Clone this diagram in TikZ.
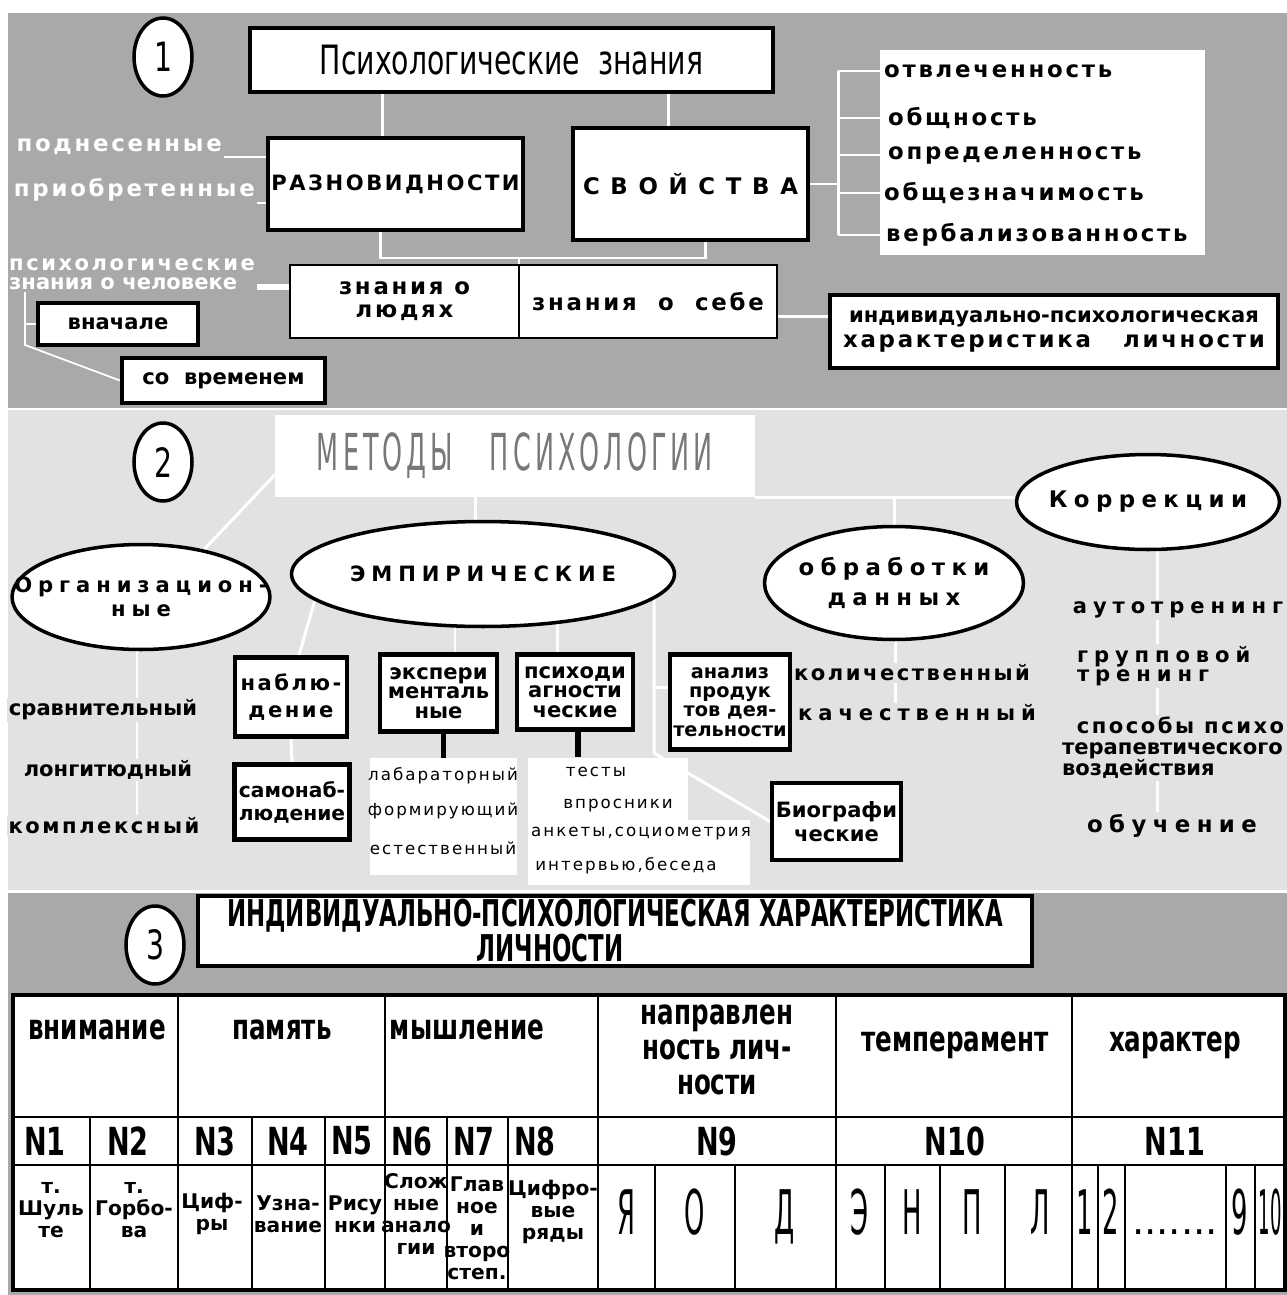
\documentclass[tikz,border=0pt]{standalone}
\usepackage{fontspec}
\setmainfont{DejaVu Sans}
\newfontfamily\spacedfont[LetterSpace=12]{DejaVu Sans}
\newfontfamily\widefont[LetterSpace=28]{DejaVu Sans}
\newfontfamily\narrowfont[FakeStretch=0.7]{DejaVu Sans}
\newfontfamily\titlefont[FakeStretch=0.62]{DejaVu Sans}
\newfontfamily\metfont[FakeStretch=0.5,LetterSpace=8]{DejaVu Sans}
\newfontfamily\thinfont[FakeStretch=0.42]{DejaVu Sans}
\usetikzlibrary{shapes.geometric,positioning,calc}
\definecolor{darkband}{HTML}{A9A9A9}
\definecolor{lightband}{HTML}{E2E2E2}
\definecolor{titlegray}{HTML}{787878}
\newcommand{\fsz}[2]{\fontsize{#1}{#2}\selectfont}
\pgfdeclarelayer{bands}
\pgfdeclarelayer{wires}
\pgfsetlayers{bands,wires,main}

\begin{document}
\begin{tikzpicture}[
  x=0.02cm,y=-0.02cm,
  box/.style={draw,line width=2.4pt,fill=white,align=center,inner sep=2pt},
  thinbox/.style={draw,line width=1.6pt,fill=white,align=center,inner sep=2pt},
  oval/.style={ellipse,draw,line width=2pt,fill=white,inner sep=0pt},
  num/.style={ellipse,draw,line width=2pt,fill=white,minimum width=1.16cm,
    minimum height=1.56cm,inner sep=0pt,font=\narrowfont\fsz{23}{23}},
  wline/.style={draw=white,line width=1.7pt},
  bline/.style={draw=black,line width=3pt},
  tline/.style={line width=1.2pt},
  wlbl/.style={text=white,align=left,inner sep=1pt},
  prop/.style={anchor=west,inner sep=1pt,font=\spacedfont\bfseries\fsz{13}{13}},
  glbl/.style={fill=lightband,inner sep=1pt,align=left},
  litem/.style={inner sep=1pt,font=\spacedfont\fsz{9.5}{10}},
  hdr/.style={align=center,inner sep=0pt,font=\narrowfont\bfseries\fsz{20}{20}},
  nlbl/.style={inner sep=0pt,font=\narrowfont\bfseries\fsz{22}{22}},
  small/.style={align=center,inner sep=0pt,font=\bfseries\fsz{11.5}{12.5}},
  big/.style={inner sep=0pt,text height=26pt,text depth=0pt,font=\thinfont\fsz{35}{35}}]
  \useasboundingbox (0,0) rectangle (1287,1295);
  \begin{pgfonlayer}{bands}
    \fill[white] (0,0) rectangle (1287,1295);
    \fill[darkband] (8,13) rectangle (1287,408);
    \fill[lightband] (8,410) rectangle (1287,890);
    \fill[darkband] (8,893) rectangle (1287,1295);
  \end{pgfonlayer}

  % section 1
  \node[num] (c1) at (163,57) {1};
  \node[box,minimum width=10.46cm,minimum height=1.28cm,font=\narrowfont\fsz{23}{23}] (kn) at (511.5,60) {Психологические\ \ знания};
  \node[box,minimum width=5.02cm,minimum height=1.84cm,font=\spacedfont\bfseries\fsz{12}{12}] (razn) at (395.5,184) {РАЗНОВИДНОСТИ};
  \node[box,minimum width=4.7cm,minimum height=2.24cm,font=\spacedfont\bfseries\fsz{13}{13}] (svoi) at (690.5,184) {С В О Й С Т В А};
  \node[fill=white,minimum width=6.5cm,minimum height=4.1cm] (props) at (1042.5,152.5) {};
  \node[prop] (p1) at (882,71) {отвлеченность};
  \node[prop] (p2) at (886,118) {общность};
  \node[prop] (p3) at (886,155) {определенность};
  \node[prop] (p4) at (882,193) {общезначимость};
  \node[prop] (p5) at (884,235) {вербализованность};
  \node[wlbl,anchor=south east,font=\spacedfont\bfseries\fsz{13}{13}] (podn) at (224,157) {поднесенные};
  \node[wlbl,anchor=south east,font=\spacedfont\bfseries\fsz{13}{13}] (priob) at (257,203) {приобретенные};
  \node[wlbl,anchor=south east,font=\bfseries\fsz{12}{11}] (psi) at (257,292) {{\spacedfont психологические}\\знания о человеке};
  \node[thinbox,minimum width=4.58cm,minimum height=1.46cm,font=\spacedfont\bfseries\fsz{13}{13}] (zl) at (404.5,301.5) {знания о\\людях};
  \node[thinbox,minimum width=5.16cm,minimum height=1.46cm,font=\spacedfont\bfseries\fsz{13}{13}] (zr) at (648,301.5) {знания\ \ о\ \ себе};
  \node[box,minimum width=8.96cm,minimum height=1.46cm,font=\bfseries\fsz{12}{14}] (ipx) at (1054,331.5) {индивидуально-психологическая\\{\spacedfont\fsz{13}{14}характеристика\ \ \ личности}};
  \node[box,minimum width=3.2cm,minimum height=0.84cm,font=\bfseries\fsz{12}{12}] (vnach) at (118,324) {вначале};
  \node[box,minimum width=4.06cm,minimum height=0.9cm,font=\bfseries\fsz{12}{12}] (sovr) at (223.5,380.5) {со\ \ временем};

  % section 2
  \node[num] (c2) at (163,462) {2};
  \node[fill=white,minimum width=9.6cm,minimum height=1.64cm,text=titlegray,font=\metfont\fsz{29}{29}] (met) at (515,456) {МЕТОДЫ\ \ \ ПСИХОЛОГИИ};
  \node[oval,minimum width=5.16cm,minimum height=2.1cm] (org) at (141,597) {};
  \node[align=center,font=\widefont\bfseries\fsz{12}{14}] (orgt) at (org) {Организацион-\\ные};
  \node[oval,minimum width=7.66cm,minimum height=2.1cm] (emp) at (483,574) {};
  \node[font=\widefont\bfseries\fsz{12}{12}] (empt) at (emp) {ЭМПИРИЧЕСКИЕ};
  \node[oval,minimum width=5.18cm,minimum height=2.26cm] (obr) at (894,583) {};
  \node[align=center,font=\widefont\bfseries\fsz{13}{17}] (obrt) at (obr) {обработки\\данных};
  \node[oval,minimum width=5.26cm,minimum height=1.9cm] (korr) at (1148,502) {};
  \node[font=\widefont\bfseries\fsz{13}{13}] (korrt) at (korr) {Коррекции};
  \node[box,minimum width=2.24cm,minimum height=1.58cm,font=\spacedfont\bfseries\fsz{12}{15}] (nabl) at (291,697) {наблю-\\дение};
  \node[box,minimum width=2.3cm,minimum height=1.5cm,font=\bfseries\fsz{11.5}{13}] (samo) at (292,802) {самонаб-\\людение};
  \node[box,minimum width=2.34cm,minimum height=1.54cm,font=\bfseries\fsz{12}{11}] (eksp) at (438.5,693) {экспери\\менталь\\ные};
  \node[box,minimum width=2.32cm,minimum height=1.5cm,font=\bfseries\fsz{12}{11}] (psid) at (575,692) {психоди\\агности\\ческие};
  \node[box,minimum width=2.32cm,minimum height=1.9cm,font=\bfseries\fsz{11}{11}] (anal) at (730,702) {анализ\\продук\\тов дея-\\тельности};
  \node[box,minimum width=2.34cm,minimum height=1.54cm,font=\bfseries\fsz{12}{14}] (bio) at (836.5,821.5) {Биографи\\ческие};
  \node[fill=white,minimum width=2.94cm,minimum height=2.34cm] (list1) at (443.5,816.5) {};
  \node[litem] (l1) at (443,776) {лабараторный};
  \node[litem] (l2) at (443,811) {формирующий};
  \node[litem] (l3) at (443,848) {естественный};
  \node[fill=white,minimum width=3.2cm,minimum height=1.3cm] (list2a) at (608,790) {};
  \node[fill=white,minimum width=4.44cm,minimum height=1.3cm] (list2b) at (639,852) {};
  \node[litem] (t1) at (596,772) {тесты};
  \node[litem] (t2) at (618,806) {впросники};
  \node[litem] (t3) at (641,834) {анкеты,социометрия};
  \node[litem] (t4) at (626,866) {интервью,беседа};
  \node[glbl,font=\bfseries\fsz{12}{12}] (o1) at (103,710) {сравнительный};
  \node[glbl,font=\bfseries\fsz{12}{12}] (o2) at (108,770) {лонгитюдный};
  \node[glbl,font=\spacedfont\bfseries\fsz{12}{12}] (o3) at (104,826) {комплексный};
  \node[glbl,font=\spacedfont\bfseries\fsz{12}{12}] (d1) at (912,673) {количественный};
  \node[glbl,font=\widefont\bfseries\fsz{12}{12}] (d2) at (917,713) {качественный};
  \node[glbl,font=\widefont\bfseries\fsz{12}{12}] (k1) at (1178,610) {аутотренинг};
  \node[glbl,anchor=west,font=\widefont\bfseries\fsz{12}{11}] (k2) at (1075,666) {групповой\\тренинг};
  \node[glbl,anchor=west,font=\bfseries\fsz{12}{12}] (k3) at (1060,748) {\ \ {\spacedfont способы психо}\\терапевтического\\воздействия};
  \node[glbl,font=\widefont\bfseries\fsz{13}{13}] (k4) at (1172,826) {обучение};

  % section 3
  \node[num] (c3) at (155,945) {3};
  \node[box,minimum width=16.68cm,minimum height=1.36cm,font=\titlefont\bfseries\fsz{21}{16}] (t3) at (615,931) {ИНДИВИДУАЛЬНО-ПСИХОЛОГИЧЕСКАЯ ХАРАКТЕРИСТИКА\\\hspace*{-2.6cm}ЛИЧНОСТИ};
  \draw[line width=2.4pt,fill=white] (13,995) rectangle (1285,1290);
  \draw[tline] (13,1117) -- (1285,1117) (13,1165) -- (1285,1165);
  \foreach \x in {178,385,598,836,1072} \draw[tline] (\x,995) -- (\x,1290);
  \foreach \x in {90,252,325,447,508} \draw[tline] (\x,1117) -- (\x,1290);
  \foreach \x in {655,735,885,940,1005,1098,1125,1226,1255} \draw[tline] (\x,1165) -- (\x,1290);
  \foreach \x/\y/\t [count=\i] in {97/1030/внимание,282/1030/память,467/1030/мышление,955/1045/темперамент,1175/1045/характер}
    \node[hdr] (h\i) at (\x,\y) {\t};
  \node[hdr] (h6) at (717,1050) {направлен\\ность лич-\\ности};
  \foreach \x/\t [count=\i] in {45/N1,128/N2,215/N3,288/N4,352/N5,412/N6,474/N7,535/N8,717/N9,955/N10,1175/N11}
    \node[nlbl] (n\i) at (\x,1141) {\t};
  \foreach \x/\y/\t [count=\i] in {51/1210/{т.\\Шуль\\те},134/1210/{т.\\Горбо-\\ва},212/1214/{Циф-\\ры},288/1214/{Узна-\\вание},355/1214/{Рису\\нки},416/1214/{Слож\\ные\\анало\\гии},477/1228/{Глав\\ное\\и\\второ\\степ.},553/1212/{Цифро-\\вые\\ряды}}
    \node[small] (s\i) at (\x,\y) {\t};
  \foreach \x/\t [count=\i] in {626/Я,695/О,785/Д,860/Э,912/Н,972/П,1040/Л,1085/1,1111/2,1175/{{\normalfont\fsz{22}{22}.......}},1240/9,1270/{\scalebox{0.7}[1]{10}}}
    \node[big] (b\i) at (\x,1212) {\t};

  \begin{pgfonlayer}{wires}
    \draw[wline] ([xshift=-0.27cm]razn.north) -- ([xshift=-0.27cm]razn.north |- kn.south);
    \draw[wline] ([xshift=-0.45cm]svoi.north) -- ([xshift=-0.45cm]svoi.north |- kn.south);
    \coordinate (jz) at (519,258);
    \draw[wline] ([xshift=-0.3cm]razn.south) |- (jz) -| ([xshift=0.3cm]svoi.south);
    \draw[wline] (jz) -- (jz |- zl.north);
    \draw[wline] (podn.south east) -- (podn.south east -| razn.west);
    \draw[wline] (priob.south east) -- (priob.south east -| razn.west);
    \draw[wline,line width=3pt] ([yshift=0.1cm]psi.south east) -- ([yshift=0.1cm]psi.south east -| zl.west);
    \coordinate (pb) at (25,345);
    \draw[wline,line width=1pt] (pb |- psi.south) -- (pb) -- (sovr.west);
    \draw[wline,line width=1pt] (pb |- vnach.west) -- (vnach.west);
    \coordinate (pbr) at (838,179);
    \draw[wline] (svoi.east) -- (svoi.east -| pbr);
    \draw[wline] (pbr |- p1.west) -- (pbr |- p5.west);
    \foreach \p in {p1,p2,p3,p4,p5} \draw[wline] (pbr |- \p.west) -- (\p.west);
    \draw[wline] ([yshift=-0.3cm]zr.east) -- ([yshift=-0.3cm]zr.east -| ipx.west);
    \draw[wline] ([yshift=-0.38cm]met.west) -- (org.37);
    \draw[wline] ([xshift=-0.16cm]emp.north) -- ([xshift=-0.16cm]emp.north |- met.south);
    \draw[wline] (met.south east) -- (met.south east -| korr.center);
    \draw[wline] (obr.north) -- (obr.north |- met.south east);
    \draw[wline] (emp.189) -- ([xshift=0.16cm]nabl.north);
    \draw[wline] (samo.north) -- (nabl.south);
    \draw[wline] ([xshift=0.33cm]eksp.north) -- ([xshift=0.33cm]eksp.north |- emp.center);
    \draw[wline] ([xshift=-0.36cm]psid.north) -- ([xshift=-0.36cm]psid.north |- emp.center);
    \coordinate (eb) at (654,753);
    \draw[wline] (eb |- emp.center) -- (eb) -- (bio.west);
    \draw[wline] ([yshift=0.3cm]anal.west) -- ([yshift=0.3cm]anal.west -| eb);
    \draw[bline] (list1.north) -- (list1.north |- eksp.south);
    \draw[bline] ([xshift=-0.6cm]list2a.north) -- ([xshift=-0.6cm]list2a.north |- psid.south);
    \coordinate (oe) at (137,815);
    \draw[wline] (oe |- org.center) -- (oe);
    \coordinate (de) at (895,705);
    \draw[wline] (de |- obr.center) -- (de);
    \coordinate (ke) at (1157,812);
    \draw[wline] (ke |- korr.center) -- (ke);
  \end{pgfonlayer}
\end{tikzpicture}
\end{document}
